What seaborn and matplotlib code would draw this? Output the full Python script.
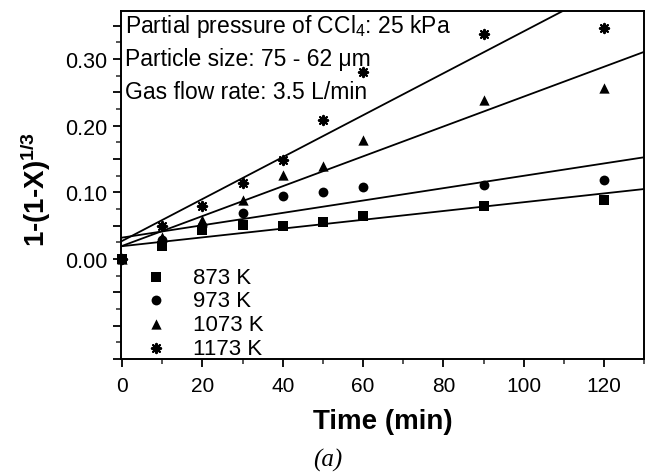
import numpy as np
import seaborn as sns
import matplotlib
matplotlib.use("Agg")
import matplotlib.pyplot as plt
from matplotlib.ticker import MultipleLocator

# data
time_min = [0, 10, 20, 30, 40, 50, 60, 90, 120]
conv_873 = [0, 0.019, 0.044, 0.051, 0.049, 0.055, 0.064, 0.080, 0.088]
conv_973 = [0, 0.028, 0.049, 0.069, 0.095, 0.100, 0.108, 0.111, 0.118]
conv_1073 = [0, 0.033, 0.058, 0.088, 0.126, 0.140, 0.178, 0.238, 0.256]
conv_1173 = [0, 0.049, 0.079, 0.114, 0.148, 0.209, 0.281, 0.337, 0.347]
series_labels = ["873 K", "973 K", "1073 K", "1173 K"]
y_tick_values = [-0.15, -0.10, -0.05, 0.00, 0.05, 0.10, 0.15, 0.20, 0.25, 0.30, 0.35]
y_tick_labels = ["", "", "", "0.00", "", "0.10", "", "0.20", "", "0.30", ""]
notes = ["Partial pressure of CCl$_4$: 25 kPa",
         "Particle size: 75 - 62 \u03bcm",
         "Gas flow rate: 3.5 L/min"]

sns.set_style("ticks")
plt.rcParams["font.family"] = ["Liberation Sans", "DejaVu Sans"]
plt.rcParams["text.color"] = "black"
plt.rcParams["axes.labelcolor"] = "black"
plt.rcParams["mathtext.fontset"] = "custom"
plt.rcParams["mathtext.rm"] = "Liberation Sans"
plt.rcParams["mathtext.it"] = "Liberation Sans:italic"
plt.rcParams["mathtext.bf"] = "Liberation Sans:bold"

fig = plt.figure(figsize=(6.45, 4.77), dpi=100)
ax = fig.add_axes([0.1876, 0.2453, 0.811, 0.7296])
ax.set_xlim(-0.3, 130)
ax.set_ylim(-0.15, 0.372)

all_series = [conv_873, conv_973, conv_1073, conv_1173]
markers = ["s", "o", "^", (8, 2, 0)]
sizes = [42, 50, 55, 45]

# fitted lines (least squares over each series, drawn over the whole axis)
for vals in all_series:
    sns.regplot(x=time_min, y=vals, ax=ax, scatter=False, ci=None, truncate=False,
                color="black", line_kws={"linewidth": 1.3})

for vals, mk, sz, lab in zip(all_series, markers, sizes, series_labels):
    if mk == (8, 2, 0):
        sns.scatterplot(x=time_min, y=vals, ax=ax, marker=mk, s=sz, color="black",
                        linewidth=1.5, label=lab, clip_on=False, zorder=3)
    else:
        sns.scatterplot(x=time_min, y=vals, ax=ax, marker=mk, s=sz, color="black",
                        edgecolor="black", linewidth=0, label=lab, clip_on=False, zorder=3)

ax.set_xlim(-0.3, 130)
ax.set_ylim(-0.15, 0.372)

ax.xaxis.set_major_locator(MultipleLocator(20))
ax.xaxis.set_minor_locator(MultipleLocator(10))
ax.set_yticks(y_tick_values)
ax.set_yticklabels(y_tick_labels)
ax.yaxis.set_minor_locator(MultipleLocator(0.025))
ax.tick_params(axis="both", which="major", direction="out", length=6, width=1.3,
               labelsize=15, color="black", labelcolor="black")
ax.tick_params(axis="both", which="minor", direction="out", length=3.5, width=1.1)
ax.tick_params(axis="x", pad=6)
ax.tick_params(axis="y", pad=4, labelsize=15.5)

for sp in ax.spines.values():
    sp.set_visible(True)
    sp.set_linewidth(1.4)
    sp.set_color("black")

ax.set_xlabel("Time (min)", fontsize=20, fontweight="bold")
ax.xaxis.set_label_coords(0.5, -0.14)
ax.set_ylabel("1-(1-X)$^{\\mathbf{1/3}}$", fontsize=20, fontweight="bold")
ax.yaxis.set_label_coords(-0.13, 0.49)

for txt, yy in zip(notes, [0.957, 0.862, 0.770]):
    ax.text(0.008, yy, txt, transform=ax.transAxes, fontsize=16.5, va="center", ha="left")

leg = ax.legend(loc="upper left", bbox_to_anchor=(0.015, 0.31), frameon=False,
                fontsize=16, handlelength=1.0, handletextpad=1.2, labelspacing=0.12,
                borderpad=0.2, markerscale=1.0)

fig.text(328 / 645, 1 - 460 / 477, "(a)", ha="center", va="center",
         fontsize=18, family="Liberation Serif", style="italic")

fig.savefig("out.png", dpi=100)
